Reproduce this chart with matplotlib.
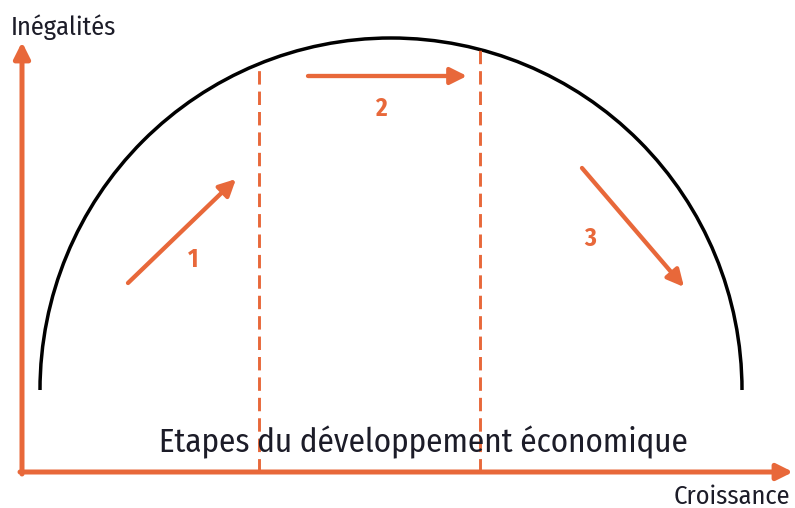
import matplotlib
matplotlib.use("Agg")
import matplotlib.pyplot as plt
from matplotlib.patches import Arc

# schematic coordinates in picture pixels (origin top-left)
origin = (22, 472)
y_axis_top = 42
x_axis_end = 793

# Kuznets curve (half ellipse)
curve_center = (391, 390)
curve_size = (702, 704)

# stage boundaries (dashed lines): x and the y where they meet the curve
stage_x = [259, 480]
stage_top = [64, 50]

# stage arrows
arrow_tails = [(128, 283), (308, 76), (582, 168)]
arrow_heads = [(236, 179), (467, 76), (684, 287)]
stage_labels = ["1", "2", "3"]
label_pos = [(193, 260), (381, 109), (590, 239)]

y_title = "Inégalités"
x_title = "Croissance"
inner_title = "Etapes du développement économique"

orange = "#E8683A"
ink = "#1c1c28"
fam = ["Fira Sans Condensed", "DejaVu Sans"]

fig = plt.figure(figsize=(7.95, 5.08), dpi=100)
ax = fig.add_axes([0, 0, 1, 1])
ax.set_xlim(0, 795)
ax.set_ylim(508, 0)
ax.axis("off")

# axes arrows
ax.annotate("", xy=(origin[0], y_axis_top), xytext=(origin[0], origin[1] + 2),
            arrowprops=dict(arrowstyle="-|>", color=orange, lw=3.6,
                            mutation_scale=24, shrinkA=0, shrinkB=0))
ax.annotate("", xy=(x_axis_end, origin[1]), xytext=(origin[0] - 2, origin[1]),
            arrowprops=dict(arrowstyle="-|>", color=orange, lw=3.6,
                            mutation_scale=24, shrinkA=0, shrinkB=0))

# curve
arc = Arc(curve_center, curve_size[0], curve_size[1], theta1=180, theta2=360,
          color="black", lw=2.5)
ax.add_patch(arc)

# dashed stage boundaries
for x, top in zip(stage_x, stage_top):
    ax.plot([x, x], [origin[1], top], color=orange, lw=2.1,
            linestyle=(0, (4.6, 2.4)), solid_capstyle="butt")

# stage arrows + numbers
for tail, head, lab, pos in zip(arrow_tails, arrow_heads, stage_labels, label_pos):
    ax.annotate("", xy=head, xytext=tail,
                arrowprops=dict(arrowstyle="-|>", color=orange, lw=3.1,
                                mutation_scale=25, shrinkA=0, shrinkB=0))
    ax.text(pos[0], pos[1], lab, color=orange, fontsize=18, fontweight="bold",
            ha="center", va="center", family=fam)

ax.text(11, 27, y_title, fontsize=19, color=ink, ha="left", va="center", family=fam)
ax.text(790, 497, x_title, fontsize=19, color=ink, ha="right", va="center", family=fam)
ax.text(423, 442, inner_title, fontsize=23.8, color=ink, ha="center", va="center",
        family=fam)

fig.savefig("out.png", dpi=100)
